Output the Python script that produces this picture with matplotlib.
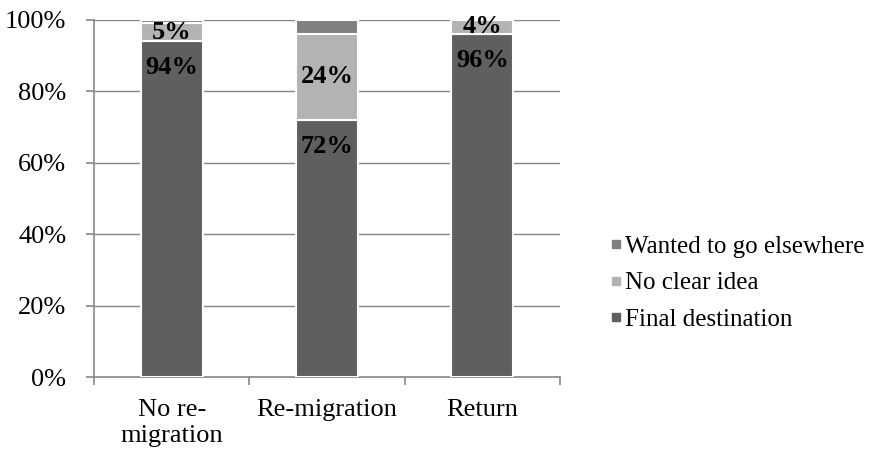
import matplotlib
matplotlib.use("Agg")
import matplotlib.pyplot as plt
from matplotlib.lines import Line2D
from matplotlib.ticker import FixedLocator, PercentFormatter

categories = ["No re-\nmigration", "Re-migration", "Return"]
final_destination = [94, 72, 96]
no_clear_idea = [5, 24, 4]
wanted_elsewhere = [1, 4, 0]

series_names = ["Final destination", "No clear idea", "Wanted to go elsewhere"]
series_colors = ["#5f5f5f", "#b3b3b3", "#808080"]

plt.rcParams["font.family"] = ["Liberation Serif", "DejaVu Serif"]
FS = 19

fig = plt.figure(figsize=(8.79, 4.5), dpi=100)
ax = fig.add_axes([0.107, 0.162, 0.530, 0.794])

x = list(range(len(categories)))
width = 0.4
bottoms = [0] * len(categories)
all_series = [final_destination, no_clear_idea, wanted_elsewhere]
for vals, color in zip(all_series, series_colors):
    ax.bar(x, vals, width, bottom=bottoms, color=color,
           edgecolor="white", linewidth=1.5, zorder=3)
    bottoms = [bt + v for bt, v in zip(bottoms, vals)]

# value labels: inside end for the base series, centred for the middle one
for i, v in enumerate(final_destination):
    ax.annotate(f"{v}%", (x[i], v), xytext=(0, -19), textcoords="offset points",
                ha="center", va="center", fontsize=FS, fontweight="bold", zorder=5)
for i, v in enumerate(no_clear_idea):
    ax.annotate(f"{v}%", (x[i], final_destination[i] + v / 2), xytext=(0, 0),
                textcoords="offset points", ha="center", va="center",
                fontsize=FS, fontweight="bold", zorder=5)

ax.set_xlim(-0.5, len(categories) - 0.5)
ax.set_ylim(0, 100)
ax.yaxis.set_major_locator(FixedLocator([0, 20, 40, 60, 80, 100]))
ax.yaxis.set_major_formatter(PercentFormatter(decimals=0))
ax.grid(axis="y", color="#878787", linewidth=1.0, zorder=0)
ax.set_axisbelow(True)

ax.set_xticks(x)
ax.set_xticklabels(categories, linespacing=1.2)
ax.set_xticks([-0.5, 0.5, 1.5, 2.5], minor=True)
ax.tick_params(axis="x", which="major", length=0, pad=16, labelsize=FS)
ax.tick_params(axis="x", which="minor", length=6, width=1.2, color="#878787",
               direction="out")
ax.tick_params(axis="y", length=6, width=1.2, color="#878787", pad=14,
               labelsize=FS, direction="out")

for side in ("top", "right"):
    ax.spines[side].set_visible(False)
for side in ("left", "bottom"):
    ax.spines[side].set_color("#878787")
    ax.spines[side].set_linewidth(1.2)

handles = [Line2D([], [], marker="s", linestyle="none", markersize=6,
                  markerfacecolor=c, markeredgecolor=c)
           for c in series_colors]
fig.legend(handles[::-1], series_names[::-1], loc="center left",
           bbox_to_anchor=(0.681, 0.371), frameon=False,
           prop={"family": "Liberation Serif", "size": 18},
           handlelength=0.6, handletextpad=0.05, labelspacing=0.55,
           borderaxespad=0)

fig.savefig("out.png", dpi=100)
